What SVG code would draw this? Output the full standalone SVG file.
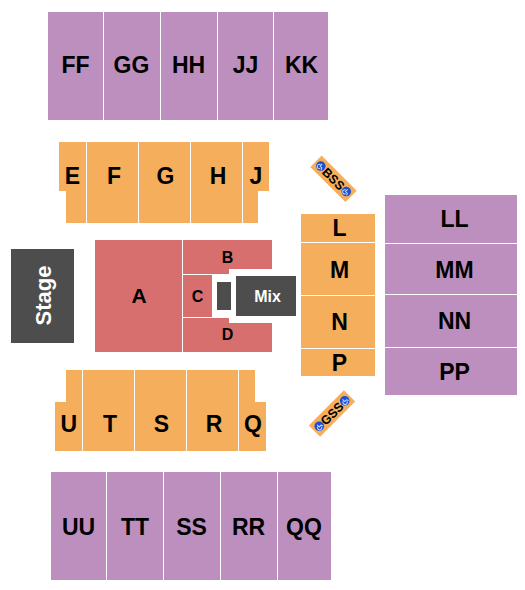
<svg xmlns="http://www.w3.org/2000/svg" width="525" height="590" viewBox="0 0 525 590">
<style>
.p{fill:#bc8fbf}.o{fill:#f5ae5b}.r{fill:#d76f6e}.d{fill:#4d4d4d}.b{fill:#1a4fd6}
.w{fill:none;stroke:#cfdcf7;stroke-width:1}
text{font-family:"Liberation Sans",Arial,sans-serif;font-weight:700;fill:#000;text-anchor:middle}
.t{font-size:23px}.m{font-size:22px}.s{font-size:16px}.x{font-size:12.500px}
</style>
<defs>
<g id="wc"><circle class="b" r="4.800"/><path class="w" d="M-0.500 -2.500V0.500H2L3 2.500M-1.500 -0.800A2.200 2.200 0 1 0 1.300 2"/></g>
</defs>
<rect width="525" height="590" fill="#fff"/>
<g id="FF"><rect class="p" x="48" y="12" width="55" height="108"/><text class="t" x="75.500" y="73">FF</text></g>
<g id="GG"><rect class="p" x="104" y="12" width="56" height="108"/><text class="t" x="131.500" y="73">GG</text></g>
<g id="HH"><rect class="p" x="161" y="12" width="56" height="108"/><text class="t" x="188.500" y="73">HH</text></g>
<g id="JJ"><rect class="p" x="218" y="12" width="55" height="108"/><text class="t" x="245.500" y="73">JJ</text></g>
<g id="KK"><rect class="p" x="274" y="12" width="54" height="108"/><text class="t" x="301.500" y="73">KK</text></g>
<g id="E"><path class="o" d="M59 142H86V223H66V191H59Z"/><text class="t" x="72.500" y="183.500">E</text></g>
<g id="F"><rect class="o" x="87" y="142" width="51" height="81"/><text class="t" x="114" y="183.500">F</text></g>
<g id="G"><rect class="o" x="139" y="142" width="51" height="81"/><text class="t" x="165.500" y="183.500">G</text></g>
<g id="H"><rect class="o" x="191" y="142" width="51" height="81"/><text class="t" x="218" y="183.500">H</text></g>
<g id="J"><path class="o" d="M243 142H269V191H258V223H243Z"/><text class="t" x="256" y="183.500">J</text></g>
<g id="BSS"><g transform="translate(333.500 178.800) rotate(45)"><rect class="o" x="-24.800" y="-8" width="49.600" height="16"/><use href="#wc" x="-18" y="0"/><use href="#wc" x="18" y="0"/><text class="x" x="0" y="4.500">BSS</text></g></g>
<g id="Stage"><rect class="d" x="11" y="249" width="63" height="94"/><text class="m" transform="translate(51 295.500) rotate(-90)" style="fill:#fff">Stage</text></g>
<g id="A"><rect class="r" x="95" y="240" width="87" height="112"/><text class="t" x="139" y="303" style="font-size:21px">A</text></g>
<g id="B"><path class="r" d="M183 240H272V269H229V274H183Z"/><text class="s" x="227.500" y="263">B</text></g>
<g id="C"><rect class="r" x="183" y="275" width="29" height="42"/><text class="s" x="197.500" y="302">C</text></g>
<g id="D"><path class="r" d="M183 318H229V323H272V352H183Z"/><text class="s" x="227.500" y="340">D</text></g>
<g id="Console"><rect class="d" x="217" y="282" width="14" height="28"/></g>
<g id="Mix"><rect class="d" x="236" y="276" width="60" height="40"/><text x="267.500" y="302" style="font-size:16px;fill:#fff">Mix</text></g>
<g id="L"><rect class="o" x="301" y="214" width="74" height="28"/><text class="t" x="339.500" y="235.500">L</text></g>
<g id="M"><rect class="o" x="301" y="243" width="74" height="52"/><text class="t" x="339.500" y="277.500">M</text></g>
<g id="N"><rect class="o" x="301" y="296" width="74" height="52"/><text class="t" x="339.500" y="330">N</text></g>
<g id="P"><rect class="o" x="301" y="349" width="74" height="27"/><text class="t" x="339.500" y="371">P</text></g>
<g id="LL"><rect class="p" x="385" y="195" width="132" height="48"/><text class="t" x="454.500" y="227">LL</text></g>
<g id="MM"><rect class="p" x="385" y="244" width="132" height="50"/><text class="t" x="454.500" y="278">MM</text></g>
<g id="NN"><rect class="p" x="385" y="295" width="132" height="52"/><text class="t" x="454.500" y="328.500">NN</text></g>
<g id="PP"><rect class="p" x="385" y="348" width="132" height="47"/><text class="t" x="454.500" y="380">PP</text></g>
<g id="GSS"><g transform="translate(332 413.500) rotate(-45)"><rect class="o" x="-24.800" y="-8" width="49.600" height="16"/><use href="#wc" x="-18" y="0"/><use href="#wc" x="18" y="0"/><text class="x" x="0" y="4.500">GSS</text></g></g>
<g id="U"><path class="o" d="M66 370H82V451H55V402H66Z"/><text class="t" x="68.700" y="431.500">U</text></g>
<g id="T"><rect class="o" x="83" y="370" width="51" height="81"/><text class="t" x="110" y="431.500">T</text></g>
<g id="S"><rect class="o" x="135" y="370" width="51" height="81"/><text class="t" x="161.500" y="431.500">S</text></g>
<g id="R"><rect class="o" x="187" y="370" width="51" height="81"/><text class="t" x="214" y="431.500">R</text></g>
<g id="Q"><path class="o" d="M239 370H255V402H266V451H239Z"/><text class="t" x="253" y="431.500">Q</text></g>
<g id="UU"><rect class="p" x="51" y="472" width="55" height="108"/><text class="t" x="78.500" y="535">UU</text></g>
<g id="TT"><rect class="p" x="107" y="472" width="56" height="108"/><text class="t" x="135" y="535">TT</text></g>
<g id="SS"><rect class="p" x="164" y="472" width="56" height="108"/><text class="t" x="191.500" y="535">SS</text></g>
<g id="RR"><rect class="p" x="221" y="472" width="56" height="108"/><text class="t" x="248.500" y="535">RR</text></g>
<g id="QQ"><rect class="p" x="278" y="472" width="53" height="108"/><text class="t" x="304" y="535">QQ</text></g>
<g id="connectors"></g>
</svg>
